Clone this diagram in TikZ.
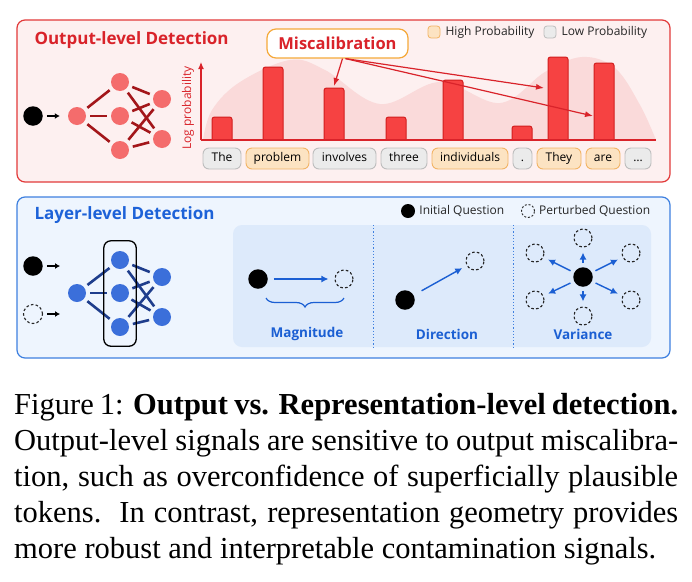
\documentclass[tikz,border=0pt]{standalone}
\usepackage{fontspec}
\setmainfont{Liberation Serif}
\setsansfont{Open Sans}
\usetikzlibrary{positioning,fit,calc,decorations.pathreplacing,arrows.meta}
\tikzset{>={Latex[length=6pt,width=5pt]}}
\definecolor{redline}{HTML}{E23A3A}
\definecolor{redtitle}{HTML}{D9232A}
\definecolor{redfill}{HTML}{FDF0F0}
\definecolor{wavecol}{HTML}{FADADA}
\definecolor{barfill}{HTML}{F64242}
\definecolor{barline}{HTML}{D21E1E}
\definecolor{rnodecol}{HTML}{F46C6C}
\definecolor{redgecol}{HTML}{A3161A}
\definecolor{hifill}{HTML}{FCE3C2}
\definecolor{hiline}{HTML}{F2B465}
\definecolor{lofill}{HTML}{EBEBEB}
\definecolor{loline}{HTML}{BDBDBD}
\definecolor{misline}{HTML}{F5A93A}
\definecolor{blueline}{HTML}{3E80E0}
\definecolor{bluetitle}{HTML}{1D62D8}
\definecolor{bluefill}{HTML}{EEF5FE}
\definecolor{panelcol}{HTML}{DDEAFB}
\definecolor{bnodecol}{HTML}{3B6FDA}
\definecolor{bedgecol}{HTML}{1E3D8C}
\definecolor{arrowblue}{HTML}{1B5FD3}
\tikzset{
  panel/.style={rounded corners=8pt,line width=1.2pt},
  ttl/.style={anchor=west,font=\sffamily\bfseries\fontsize{17}{20}\selectfont},
  legtext/.style={font=\sffamily\fontsize{12}{14}\selectfont,inner sep=0pt,text=black!85},
  legsq/.style={rectangle,rounded corners=3pt,minimum size=12pt,inner sep=0pt,line width=0.8pt},
  rnode/.style={circle,fill=rnodecol,minimum size=18pt,inner sep=0pt},
  bnode/.style={circle,fill=bnodecol,minimum size=18pt,inner sep=0pt},
  qnode/.style={circle,fill=black,minimum size=#1,inner sep=0pt},
  qnode/.default=19.5pt,
  pnode/.style={circle,draw=black!85,dash pattern=on 2.6pt off 2.2pt,line width=1.1pt,
    minimum size=#1,inner sep=0pt},
  pnode/.default=18pt,
  redge/.style={line width=2.6pt,redgecol,shorten <=4pt,shorten >=4pt},
  bedge/.style={line width=2.6pt,bedgecol,shorten <=4pt,shorten >=4pt},
  inarrow/.style={-{Latex[length=5pt,width=6pt]},line width=1.6pt,shorten <=4pt},
  bar/.style={fill=barfill,draw=barline,line width=1pt},
  tok/.style={rectangle,rounded corners=6pt,fill=#1fill,draw=#1line,line width=0.9pt,
    minimum height=21pt,inner sep=0pt,font=\sffamily\fontsize{12}{14}\selectfont,
    text height=8.5pt,text depth=2.5pt},
  misarr/.style={-{Latex[length=8pt,width=6pt]},redtitle,line width=1.2pt},
  barrow/.style={-{Latex[length=7pt,width=7pt]},arrowblue,line width=1.4pt},
  labtext/.style={font=\sffamily\bfseries\fontsize{13.5}{16}\selectfont,text=arrowblue},
}
\begin{document}
\begin{tikzpicture}[x=1pt,y=-1pt]
  \useasboundingbox (0,0) rectangle (692,581);
  \fill[white] (0,0) rectangle (692,581);

  % OUTPUT-LEVEL PANEL
  \draw[panel,fill=redfill,draw=redline] (17,20) rectangle (670,182);
  \node[ttl,text=redtitle] (outttl) at (31,40) {Output-level Detection};
  \node[legsq,fill=hifill,draw=hiline] (hisq) at (434,32) {};
  \node[legtext,right=5pt of hisq] (hitxt) {High Probability};
  \node[legsq,fill=lofill,draw=loline] (losq) at (550,32) {};
  \node[legtext,right=5pt of losq] (lotxt) {Low Probability};

  % red network
  \node[qnode] (xin) at (33,116) {};
  \node[rnode] (r1) at (77,116) {};
  \node[rnode] (r2a) at (120,82) {};
  \node[rnode] (r2b) at (120,116) {};
  \node[rnode] (r2c) at (120,150) {};
  \node[rnode] (r3a) at (162,99) {};
  \node[rnode] (r3b) at (162,139) {};
  \draw[inarrow,shorten >=8pt] (xin) -- (r1);
  \foreach \j in {r2a,r2b,r2c}
    \draw[redge] (r1) -- (\j);
  \foreach \i in {r2a,r2b,r2c}
    \foreach \j in {r3a,r3b}
      \draw[redge] (\i) -- (\j);

  % chart
  \fill[wavecol] plot[smooth,tension=0.6] coordinates {(203,140) (212,110) (240,82)
    (290,60) (325,70) (380,104) (440,82) (500,103) (545,72) (582,57) (615,68)
    (640,105) (656,140)} -- cycle;
  \coordinate (origin) at (201,140);
  \coordinate (ytop) at (201,62);
  \coordinate (xend) at (656,140);
  \foreach \xa/\top [count=\k] in {212/117,263/67,324/88,386/117,443/80,512/126,548/57,594/63}{
    \path[bar] (\xa,140) [rounded corners=2.5pt] |- (\xa+10,\top) -| (\xa+20,140);
    \coordinate (bar\k) at (\xa+10,\top);
  }
  \draw[redtitle,line width=1.2pt,-{Latex[length=7pt,width=6pt]}] (origin) -- (ytop);
  \draw[redtitle,line width=1.2pt] (origin) -- (xend);
  \node[rotate=90,font=\sffamily\fontsize{12}{14}\selectfont,text=redtitle]
    (ylab) at (188,108) {Log probability};

  % tokens
  \foreach \xa/\xb/\w/\s [count=\k] in {203/241/The/lo,246/309/problem/hi,
      313/376/involves/lo,381/427/three/lo,432/508/individuals/hi,513/532/{.}/lo,
      537/581/They/hi,586/620/are/hi,625/651/\ldots/lo}
    \node[tok=\s,minimum width={\xb-\xa}] (tok\k) at ({(\xa+\xb)/2},158.5) {\w};

  % miscalibration
  \node[rectangle,rounded corners=9pt,draw=misline,fill=white,line width=1.2pt,
    minimum width=141pt,minimum height=29pt,text=redtitle,
    font=\sffamily\bfseries\fontsize{16.5}{19}\selectfont] (miscal) at (337.5,43.5) {Miscalibration};
  \coordinate (tipA) at (544,88);
  \coordinate (tipB) at (593,116);
  \draw[misarr] ($(miscal.south)+(5,0)$) -- ($(bar3)+(0,-2)$);
  \draw[misarr] ($(miscal.south)+(8,0)$) -- (tipA);
  \draw[misarr] ($(miscal.south)+(8,0)$) -- (tipB);

  % LAYER-LEVEL PANEL
  \draw[panel,fill=bluefill,draw=blueline] (17,197) rectangle (670,358);
  \node[ttl,text=bluetitle] (layttl) at (31,215) {Layer-level Detection};
  \node[qnode=14pt] (legini) at (408,211) {};
  \node[legtext,right=4pt of legini] (initxt) {Initial Question};
  \node[pnode=13pt,line width=0.9pt,dash pattern=on 2pt off 1.8pt] (legper) at (528,211) {};
  \node[legtext,right=4pt of legper] (pertxt) {Perturbed Question};

  \fill[panelcol,rounded corners=9pt] (233,225) rectangle (651,347);
  \draw[blueline,line width=1pt,dash pattern=on 1.2pt off 2pt] (373,225) -- (373,347);
  \draw[blueline,line width=1pt,dash pattern=on 1.2pt off 2pt] (513,225) -- (513,347);

  % blue network
  \node[qnode] (xa) at (33,266) {};
  \node[pnode=19pt] (xb) at (33,314) {};
  \coordinate (xaend) at (60,266);
  \coordinate (xbend) at (60,314);
  \node[bnode] (b1) at (77,293) {};
  \node[bnode] (b2a) at (120,260) {};
  \node[bnode] (b2b) at (120,293) {};
  \node[bnode] (b2c) at (120,327) {};
  \node[bnode] (b3a) at (162,277) {};
  \node[bnode] (b3b) at (162,317) {};
  \draw[inarrow] (xa) -- (xaend);
  \draw[inarrow] (xb) -- (xbend);
  \foreach \j in {b2a,b2b,b2c}
    \draw[bedge] (b1) -- (\j);
  \foreach \i in {b2a,b2b,b2c}
    \foreach \j in {b3a,b3b}
      \draw[bedge] (\i) -- (\j);
  \node[draw=black,line width=1.3pt,rounded corners=7pt,fit=(b2a)(b2c),
    inner xsep=7pt,inner ysep=10pt] (layer) {};

  % magnitude
  \node[qnode] (magq) at (258,279) {};
  \node[pnode] (magp) at (344,279) {};
  \draw[barrow,shorten <=6pt,shorten >=6pt] (magq) -- (magp);
  \draw[arrowblue,line width=1.2pt,decorate,decoration={brace,mirror,amplitude=9pt}]
    (266,298) -- (344,298);
  \node[labtext] (maglab) at (307,334) {Magnitude};

  % direction
  \node[qnode] (dirq) at (405,300) {};
  \node[pnode] (dirp) at (475,261) {};
  \draw[barrow,shorten <=9pt,shorten >=5pt] (dirq) -- (dirp);
  \node[labtext] (dirlab) at (447,334) {Direction};

  % variance
  \node[qnode] (varq) at (583,277) {};
  \foreach \n/\pos in {t/{(583,238)},b/{(583,316)},tl/{(535,253)},tr/{(631,253)},
      bl/{(535,300)},br/{(631,300)}}{
    \node[pnode] (var\n) at \pos {};
    \draw[barrow,shorten <=4pt,shorten >=5pt] (varq) -- (var\n);
  }
  \node[labtext] (varlab) at (583,334) {Variance};

  % CAPTION
  \node[anchor=north west,inner sep=0pt,text width=664pt,align=justify,
    font=\rmfamily\fontsize{30.5}{36}\selectfont] (caption) at (14,393)
    {Figure 1: \textbf{Output vs. Representation-level detection.}\linebreak
     Output-level signals are sensitive to output miscalibra-\linebreak
     tion, such as overconfidence of superficially plausible\linebreak
     tokens.\ \ In contrast, representation geometry provides\linebreak
     more robust and interpretable contamination signals.};
\end{tikzpicture}
\end{document}
